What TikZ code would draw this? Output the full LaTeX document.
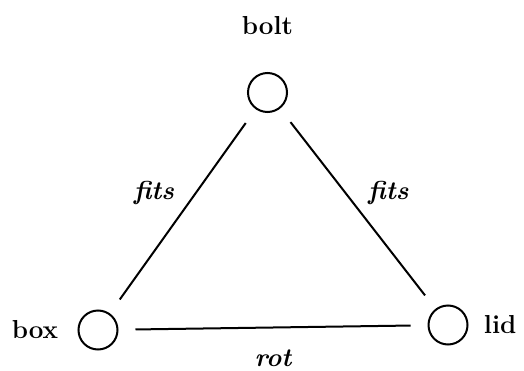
\documentclass[tikz,border=0pt]{standalone}
\usepackage{tikz}
\usetikzlibrary{positioning}

\begin{document}
\begin{tikzpicture}[x=0.5pt,y=0.5pt,
  knot/.style={draw,circle,line width=1pt,minimum size=19.5pt,inner sep=0pt,outer sep=0pt},
  objname/.style={font=\fontsize{13}{15}\selectfont\bfseries,inner sep=0pt},
  rel/.style={font=\fontsize{13}{15}\selectfont\bfseries\itshape,inner sep=0pt},
  link/.style={line width=1pt,shorten <=9pt,shorten >=9pt}]
  \useasboundingbox (0,0) rectangle (524,370);

  % ================= objects =================
  \node[knot] (bolt) at (267.5,277.5) {};
  \node[knot] (box) at (98,40) {};
  \node[knot] (lid) at (448,45) {};

  % ================= object names =================
  \node[objname,above=19pt of bolt] (boltname) {bolt};
  \node[objname,left=10pt of box] (boxname) {box};
  \node[objname,right=8pt of lid] (lidname) {lid};

  % ================= relations =================
  \draw[link] (bolt) -- (box)
    node[rel,pos=0.41,left=10.5pt] (fitsleft) {fits};
  \draw[link] (bolt) -- (lid)
    node[rel,pos=0.42,right=11pt] (fitsright) {fits};
  \draw[link] (box) -- (lid)
    node[rel,midway,below=10.5pt] (rotlabel) {rot};

\end{tikzpicture}
\end{document}
